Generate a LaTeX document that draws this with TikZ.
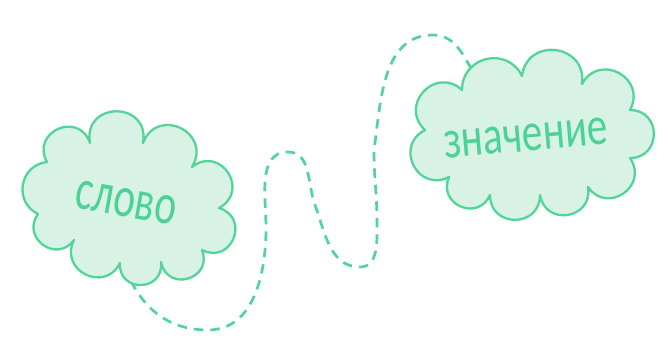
\documentclass[tikz,border=0pt]{standalone}
\usepackage{fontspec}
\setmainfont{Carlito}
\newfontfamily\handfont[FakeStretch=0.75]{Carlito}
\newfontfamily\handfontn[FakeStretch=0.71]{Carlito}
\definecolor{cloudline}{RGB}{82,213,152}
\definecolor{cloudfill}{RGB}{216,243,229}
\definecolor{cloudtext}{RGB}{76,210,150}
\begin{document}
\begin{tikzpicture}[x=1pt,y=-1pt,
  cloudshape/.style={draw=cloudline, fill=cloudfill, line width=2.3pt, line join=round},
  lobeA/.style={bend left=100, looseness=2.08},
  lobeD/.style={bend left=95, looseness=1.88},
  lobeB/.style={bend left=90, looseness=1.70},
  lobeE/.style={bend left=84, looseness=1.54},
  lobeC/.style={bend left=77, looseness=1.40},
  lobeF/.style={bend left=74, looseness=1.34},
  word/.style={text=cloudtext, inner sep=0pt},
  link/.style={draw=cloudline, line width=2.7pt, dash pattern=on 9.5pt off 7pt}]
\useasboundingbox (0,0) rectangle (670,340);
\fill[white] (0,0) rectangle (670,340);

% dashed connector
\coordinate (s) at (131,281);
\coordinate (p1) at (208,330);
\coordinate (m1) at (266,228);
\coordinate (p3) at (288,152);
\coordinate (m2) at (315,205);
\coordinate (p4) at (360,267);
\coordinate (m3) at (377,222);
\coordinate (m4) at (374,150);
\coordinate (t) at (433,35);
\coordinate (e) at (472,70);
\draw[link] (s) to[out=-63,in=180] (p1) to[out=0,in=-90] (m1) to[out=90,in=180] (p3)
  to[out=0,in=110] (m2) to[out=-70,in=180] (p4) to[out=0,in=-90] (m3)
  to[out=90,in=-90] (m4) to[out=82,in=180] (t) to[out=0,in=120] (e);

% left cloud
\path[cloudshape] (47,162) to[lobeD] (90,143) to[lobeA] (143,143) to[lobeD] (192,167)
  to[lobeD] (219,208) to[lobeD] (202,250) to[lobeD] (161,262) to[lobeD] (120,263)
  to[lobeB] (74,240) to[lobeB] (38,214) to[lobeF] (47,162) -- cycle;

% right cloud
\path[cloudshape] (425,130) to[lobeB] (462,90) to[lobeC] (522,76) to[lobeB] (582,84)
  to[lobeB] (630,110) to[lobeB] (630,158) to[lobeB] (588,187) to[lobeB] (540,195)
  to[lobeB] (490,195) to[lobeB] (449,177) to[lobeB] (425,130) -- cycle;

\node[word, rotate=-10, font=\handfontn\fontsize{58}{62}\selectfont] (slovo) at (126,203) {слово};
\node[word, rotate=5, font=\handfont\fontsize{55}{60}\selectfont] (znach) at (526,138) {значение};
\end{tikzpicture}
\end{document}
